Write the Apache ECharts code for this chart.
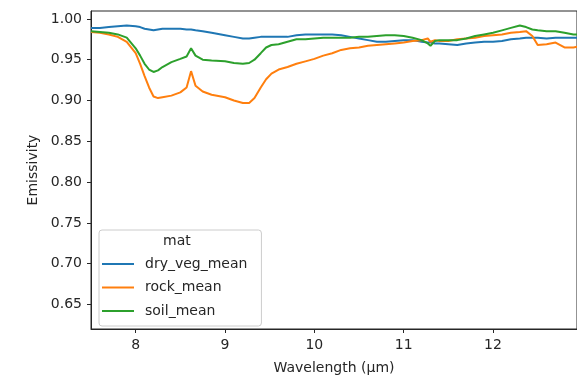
<!DOCTYPE html>
<html>
<head>
<meta charset="utf-8">
<script src="https://cdn.jsdelivr.net/npm/echarts@6/dist/echarts.min.js"></script>
<style>
html,body{margin:0;padding:0;background:#fff;}
#chart{width:577px;height:380px;}
</style>
</head>
<body>
<div id="chart"></div>
<script>
const wavelengths = [7.5, 7.6, 7.7, 7.8, 7.9, 8.0, 8.05, 8.1, 8.15, 8.2, 8.25, 8.3, 8.4, 8.5, 8.57, 8.62, 8.67, 8.75, 8.85, 9.0, 9.1, 9.2, 9.27, 9.33, 9.4, 9.46, 9.52, 9.6, 9.7, 9.8, 9.9, 10.0, 10.1, 10.2, 10.3, 10.4, 10.5, 10.6, 10.7, 10.8, 10.9, 11.0, 11.1, 11.2, 11.27, 11.3, 11.35, 11.4, 11.5, 11.6, 11.7, 11.8, 11.9, 12.0, 12.1, 12.2, 12.3, 12.37, 12.44, 12.5, 12.6, 12.7, 12.8, 12.9, 12.95];

const dryVegMean = [0.989, 0.989, 0.990, 0.991, 0.992, 0.991, 0.990, 0.988, 0.987, 0.986, 0.987, 0.988, 0.988, 0.988, 0.987, 0.987, 0.986, 0.985, 0.983, 0.980, 0.978, 0.976, 0.976, 0.977, 0.978, 0.978, 0.978, 0.978, 0.978, 0.980, 0.981, 0.981, 0.981, 0.981, 0.980, 0.978, 0.976, 0.974, 0.972, 0.972, 0.973, 0.974, 0.974, 0.972, 0.971, 0.971, 0.970, 0.970, 0.969, 0.968, 0.970, 0.971, 0.972, 0.972, 0.973, 0.975, 0.976, 0.977, 0.977, 0.977, 0.976, 0.977, 0.977, 0.977, 0.977];

const rockMean = [0.984, 0.983, 0.981, 0.978, 0.972, 0.958, 0.945, 0.930, 0.916, 0.905, 0.903, 0.904, 0.906, 0.910, 0.916, 0.936, 0.918, 0.911, 0.907, 0.904, 0.900, 0.897, 0.897, 0.903, 0.916, 0.926, 0.933, 0.938, 0.941, 0.945, 0.948, 0.951, 0.955, 0.958, 0.962, 0.964, 0.965, 0.967, 0.968, 0.969, 0.970, 0.971, 0.973, 0.974, 0.976, 0.972, 0.974, 0.973, 0.973, 0.975, 0.976, 0.977, 0.979, 0.980, 0.981, 0.983, 0.984, 0.985, 0.979, 0.968, 0.969, 0.971, 0.965, 0.965, 0.966];

const soilMean = [0.985, 0.984, 0.983, 0.981, 0.977, 0.964, 0.955, 0.945, 0.938, 0.935, 0.937, 0.941, 0.947, 0.951, 0.954, 0.964, 0.955, 0.950, 0.949, 0.948, 0.946, 0.945, 0.946, 0.950, 0.958, 0.965, 0.968, 0.969, 0.972, 0.975, 0.975, 0.976, 0.977, 0.977, 0.977, 0.977, 0.978, 0.978, 0.979, 0.980, 0.980, 0.979, 0.977, 0.974, 0.970, 0.967, 0.973, 0.974, 0.974, 0.974, 0.976, 0.979, 0.981, 0.983, 0.986, 0.989, 0.992, 0.990, 0.987, 0.986, 0.985, 0.985, 0.983, 0.981, 0.981];

const xTicks = [8, 9, 10, 11, 12];
const yTicks = [0.65, 0.70, 0.75, 0.80, 0.85, 0.90, 0.95, 1.00];
const seriesNames = ['dry_veg_mean', 'rock_mean', 'soil_mean'];
const legendTitle = 'mat';
const xName = 'Wavelength (µm)';
const yName = 'Emissivity';

const colors = ['#1f77b4', '#ff7f0e', '#2ca02c'];
const seriesData = [dryVegMean, rockMean, soilMean];
const font = 'DejaVu Sans';
const ink = '#262626';

const chart = echarts.init(document.getElementById('chart'), null, {renderer: 'canvas'});
chart.setOption({
  animation: false,
  backgroundColor: '#ffffff',
  grid: {
    left: 91, right: -1, top: 11, bottom: 46,
    show: true, borderColor: ink, borderWidth: 1, backgroundColor: 'transparent'
  },
  xAxis: {
    type: 'value', min: 7.5, max: 12.94,
    name: xName, nameLocation: 'middle', nameGap: 32,
    nameTextStyle: {fontFamily: font, fontSize: 14, color: ink},
    axisLine: {show: true, onZero: false, lineStyle: {color: ink, width: 1}},
    axisTick: {show: true, length: 4, lineStyle: {color: ink}, customValues: xTicks},
    axisLabel: {fontFamily: font, fontSize: 14, color: ink, margin: 9, customValues: xTicks,
      formatter: v => String(v)},
    splitLine: {show: false}
  },
  yAxis: {
    type: 'value', min: 0.62, max: 1.0097,
    name: yName, nameLocation: 'middle', nameGap: 50, nameRotate: 90,
    nameTextStyle: {fontFamily: font, fontSize: 14, color: ink},
    axisLine: {show: true, onZero: false, lineStyle: {color: ink, width: 1}},
    axisTick: {show: true, length: 4, lineStyle: {color: ink}, customValues: yTicks},
    axisLabel: {fontFamily: font, fontSize: 14, color: ink, margin: 9, customValues: yTicks,
      formatter: v => v.toFixed(2)},
    splitLine: {show: false}
  },
  legend: {
    orient: 'vertical', left: 99, top: 230,
    padding: [27, 14, 8, 3],
    itemGap: 9.5, itemWidth: 32, itemHeight: 2, icon: 'rect',
    backgroundColor: 'rgba(255,255,255,0.8)',
    borderColor: '#cccccc', borderWidth: 1, borderRadius: 3,
    textStyle: {fontFamily: font, fontSize: 14, color: ink, padding: [0, 0, 0, 6], lineHeight: 14},
    data: seriesNames
  },
  graphic: [{
    type: 'text', left: 163, top: 234, z: 100,
    style: {text: legendTitle, font: '14px "DejaVu Sans"', fill: ink}
  }],
  series: seriesNames.map((name, i) => ({
    name: name, type: 'line', symbol: 'none', color: colors[i],
    lineStyle: {width: 2, color: colors[i]},
    data: wavelengths.map((w, j) => [w, seriesData[i][j]])
  }))
});
</script>
</body>
</html>
